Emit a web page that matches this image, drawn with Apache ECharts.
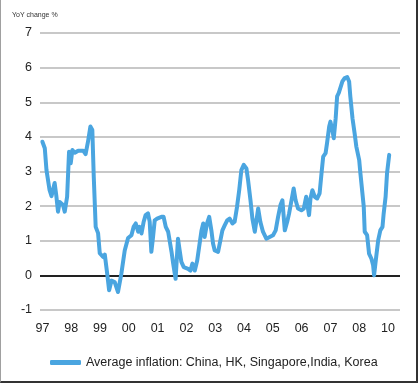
<!DOCTYPE html>
<html>
<head>
<meta charset="utf-8">
<script src="https://cdn.jsdelivr.net/npm/echarts@6/dist/echarts.min.js"></script>
<style>
html,body{margin:0;padding:0;background:#fff;}
#frame{position:absolute;left:0;top:0;width:415px;height:381px;border-left:1px solid #a0a0a0;border-right:2px solid #333;border-bottom:2px solid #333;}
#chart{position:absolute;left:0;top:0;width:419px;height:384px;}
</style>
</head>
<body>
<div id="frame"></div>
<div id="chart"></div>
<script>
// x positions: months since Jan 1997
const months = [0.0,1.0,1.7,3.0,3.8,5.1,5.8,6.5,7.2,8.6,9.3,10.3,11.1,11.8,12.5,13.5,14.9,17.0,18.0,19.0,20.0,20.8,21.4,22.2,23.2,23.9,25.3,26.0,27.0,27.8,28.8,30.1,31.5,32.9,34.3,35.7,37.1,38.0,38.9,39.9,40.5,41.3,42.2,43.0,44.0,44.7,45.4,46.1,46.8,47.8,48.6,49.6,50.5,51.4,52.4,53.0,53.8,54.5,55.5,56.5,57.2,57.9,58.9,59.7,60.7,61.7,62.5,63.5,64.5,65.3,66.3,67.0,67.6,68.6,69.5,70.4,71.1,71.8,73.2,73.9,75.0,76.0,77.0,78.0,79.2,80.1,81.1,82.0,82.9,83.9,85.0,85.7,86.7,87.5,88.5,89.2,89.9,90.8,91.9,93.3,94.7,96.1,97.2,98.2,99.2,100.0,101.0,102.0,102.8,103.8,104.7,105.5,106.5,107.9,108.9,109.9,111.1,111.7,112.5,113.5,114.5,115.5,116.3,117.0,118.0,118.6,119.5,120.0,120.8,121.4,122.2,122.8,123.5,124.2,125.0,126.0,127.0,127.8,128.3,129.2,130.1,130.8,132.0,132.5,133.3,133.9,134.3,135.3,136.1,137.1,137.8,138.2,138.9,139.9,140.8,141.7,142.2,143.0,143.6,144.5];
// Average inflation (YoY %)
const inflation = [3.86,3.67,3.04,2.46,2.29,2.67,2.30,1.84,2.12,2.03,1.84,2.27,3.57,3.24,3.62,3.54,3.60,3.60,3.50,3.86,4.30,4.20,2.85,1.40,1.22,0.64,0.53,0.60,0.05,-0.43,-0.15,-0.19,-0.48,0.05,0.72,1.08,1.16,1.40,1.50,1.26,1.40,1.21,1.55,1.74,1.79,1.55,0.68,1.11,1.59,1.64,1.59,1.69,1.69,1.40,1.26,1.30,0.68,0.34,-0.10,1.06,0.72,0.39,0.24,0.29,0.19,0.14,0.34,0.14,0.43,0.82,1.30,1.50,1.11,1.50,1.69,1.30,0.92,0.72,0.68,0.72,1.30,1.45,1.59,1.64,1.50,1.55,1.98,2.46,3.04,3.19,3.09,2.75,2.17,1.64,1.26,1.59,1.93,1.55,1.26,1.06,1.11,1.16,1.30,1.69,2.03,2.17,1.30,1.55,1.79,2.17,2.51,2.17,1.93,1.88,1.93,2.27,1.74,2.22,2.46,2.27,2.22,2.37,2.95,3.43,3.53,3.82,4.30,4.44,4.20,3.96,4.54,5.17,5.27,5.31,5.60,5.70,5.73,5.60,5.17,4.54,4.10,3.72,3.33,2.95,2.90,1.98,1.26,1.16,0.63,0.48,0.29,0.00,0.43,1.01,1.30,1.40,1.79,2.27,2.95,3.48];
// tick labels (one per year position)
const tickLabels = ['97','98','99','00','01','02','03','04','05','06','07','08','10'];
const tickPositions = tickLabels.map((_, i) => i * 12);
const yTicks = [-1,0,1,2,3,4,5,6,7];
const seriesName = 'Average inflation: China, HK, Singapore,India, Korea';

const chart = echarts.init(document.getElementById('chart'), null, {renderer: 'canvas'});
const lineColor = '#4aa5e0';
chart.setOption({
  animation: false,
  backgroundColor: 'transparent',
  textStyle: {fontFamily: 'Liberation Sans, Arial, sans-serif'},
  title: {
    text: 'YoY change %',
    left: 7, top: 7,
    textStyle: {fontSize: 7, fontWeight: 'normal', color: '#333'}
  },
  legend: {
    data: [{name: seriesName, icon: 'roundRect'}],
    left: 45, top: 351,
    itemWidth: 31, itemHeight: 5,
    textStyle: {fontSize: 12.5, color: '#222'}
  },
  grid: {left: 40, right: 19, top: 33, bottom: 74, containLabel: false},
  xAxis: {
    type: 'value',
    min: -1, max: 149,
    axisLine: {show: false},
    axisTick: {show: false},
    splitLine: {show: false},
    axisLabel: {
      customValues: tickPositions,
      formatter: v => tickLabels[Math.round(v / 12)] || '',
      fontSize: 12.5, color: '#222', margin: 12
    }
  },
  yAxis: {
    type: 'value',
    min: yTicks[0], max: yTicks[yTicks.length - 1], interval: 1,
    axisLine: {show: false},
    axisTick: {show: false},
    axisLabel: {fontSize: 12.5, color: '#222', margin: 8},
    splitLine: {
      lineStyle: {
        color: yTicks.map(v => v === 0 ? '#222' : '#c8c8c8'),
        width: 2
      }
    }
  },
  series: [{
    name: seriesName,
    type: 'line',
    data: months.map((m, i) => [m, inflation[i]]),
    showSymbol: false,
    color: lineColor,
    lineStyle: {width: 4, color: lineColor, join: 'round', cap: 'round'}
  }]
});
</script>
</body>
</html>
